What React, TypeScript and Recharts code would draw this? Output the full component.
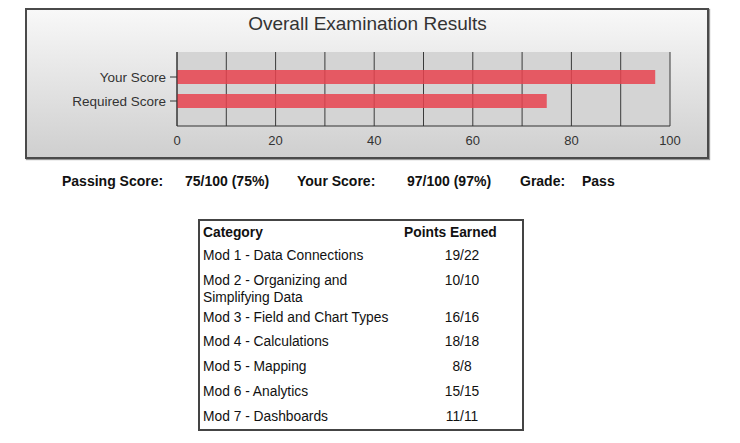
import React from 'react';
import { BarChart, Bar, XAxis, YAxis, CartesianGrid } from 'recharts';

const scoreNames = ['Your Score', 'Required Score'];
const scoreValues = [97, 75];
const xTicks = [0, 10, 20, 30, 40, 50, 60, 70, 80, 90, 100];

const summaryLabels = ['Passing Score:', 'Your Score:', 'Grade:'];
const summaryValues = ['75/100 (75%)', '97/100 (97%)', 'Pass'];

const categoryNames = [
  'Mod 1 - Data Connections',
  'Mod 2 - Organizing and\nSimplifying Data',
  'Mod 3 - Field and Chart Types',
  'Mod 4 - Calculations',
  'Mod 5 - Mapping',
  'Mod 6 - Analytics',
  'Mod 7 - Dashboards',
];
const pointsEarned = ['19/22', '10/10', '16/16', '18/18', '8/8', '15/15', '11/11'];

const FONT = '"Liberation Sans", Arial, Helvetica, sans-serif';
const summaryLefts = [62, 297, 520];
const valueLefts = [185, 407, 582];

const chartData = scoreNames.map((name, i) => ({ name, score: scoreValues[i] }));

export default function App() {
  return (
    <div style={{ position: 'absolute', left: 0, top: 0, width: 740, height: 443, fontFamily: FONT, color: '#111', background: '#fff' }}>
      {/* chart frame */}
      <div
        style={{
          position: 'absolute',
          left: 25,
          top: 8,
          width: 680,
          height: 147,
          border: '2px solid #4a4a4a',
          boxShadow: '1px 1px 1px #999',
          background: 'linear-gradient(#f8f8f8, #cfcfcf)',
        }}
      />
      <div style={{ position: 'absolute', left: 0, top: 13, width: 735, textAlign: 'center', fontSize: 19, lineHeight: '22px', color: '#333' }}>
        Overall Examination Results
      </div>
      <div style={{ position: 'absolute', left: 0, top: 0 }}>
        <BarChart
          width={740}
          height={165}
          data={chartData}
          layout="vertical"
          margin={{ top: 52, right: 70, left: 27, bottom: 9 }}
        >
          <CartesianGrid horizontal={false} stroke="#3a3a3a" fill="#d4d4d4" fillOpacity={1} />
          <XAxis
            type="number"
            domain={[0, 100]}
            ticks={xTicks}
            interval={0}
            tickFormatter={(v: number) => (v % 20 === 0 ? String(v) : '')}
            tick={{ fill: '#333', fontSize: 13 }}
            tickLine={false}
            tickSize={0}
            tickMargin={10}
            height={30}
            axisLine={{ stroke: '#333' }}
          />
          <XAxis
            xAxisId="top"
            orientation="top"
            type="number"
            domain={[0, 100]}
            tick={false}
            tickLine={false}
            height={0}
            axisLine={{ stroke: '#333' }}
          />
          <YAxis
            type="category"
            dataKey="name"
            width={150}
            padding={{ top: 13, bottom: 13 }}
            tick={{ fill: '#333', fontSize: 13.5 }}
            tickSize={7}
            tickMargin={4}
            tickLine={{ stroke: '#333' }}
            axisLine={{ stroke: '#333' }}
          />
          <Bar dataKey="score" barSize={14} fill="#e8434f" fillOpacity={0.85} isAnimationActive={false} />
        </BarChart>
      </div>

      {/* summary line */}
      {summaryLabels.map((label, i) => (
        <React.Fragment key={label}>
          <div style={{ position: 'absolute', left: summaryLefts[i], top: 173, fontSize: 14, lineHeight: '17px', fontWeight: 'bold' }}>
            {label}
          </div>
          <div style={{ position: 'absolute', left: valueLefts[i], top: 173, fontSize: 14, lineHeight: '17px', fontWeight: 'bold' }}>
            {summaryValues[i]}
          </div>
        </React.Fragment>
      ))}

      {/* category table */}
      <div
        style={{
          position: 'absolute',
          left: 198,
          top: 219,
          width: 322,
          height: 208,
          border: '2px solid #444',
          fontSize: 13.8,
          lineHeight: '17px',
        }}
      >
        <div style={{ display: 'flex', height: 23, paddingTop: 3, boxSizing: 'border-box', fontWeight: 'bold' }}>
          <div style={{ width: 201, paddingLeft: 3 }}>Category</div>
          <div style={{ paddingLeft: 0 }}>Points Earned</div>
        </div>
        {categoryNames.map((name, i) => {
          const lines = name.split('\n');
          return (
            <div key={name} style={{ display: 'flex', height: 24.8 + (lines.length - 1) * 12, paddingTop: 3, boxSizing: 'border-box' }}>
              <div style={{ width: 201, paddingLeft: 3 }}>
                {lines.map((l) => (
                  <div key={l}>{l}</div>
                ))}
              </div>
              <div style={{ width: 116, textAlign: 'center' }}>{pointsEarned[i]}</div>
            </div>
          );
        })}
      </div>
    </div>
  );
}
